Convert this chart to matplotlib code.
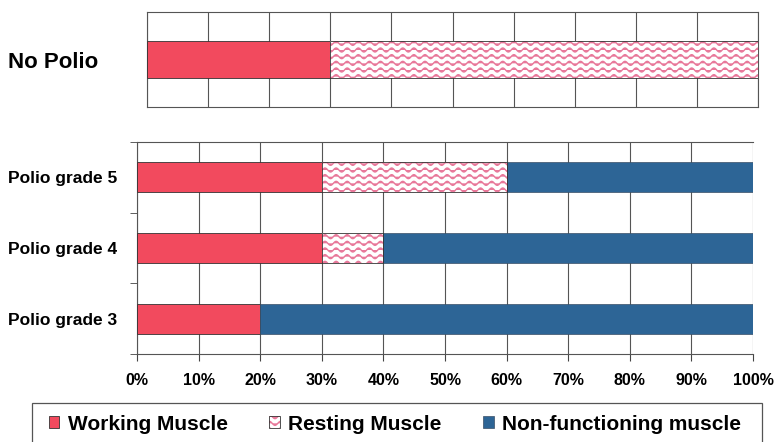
import warnings
import numpy as np
import matplotlib
matplotlib.use("Agg")
import matplotlib.pyplot as plt
import matplotlib.hatch as mhatch
import matplotlib.patches as mpatches
from matplotlib.legend_handler import HandlerTuple
from matplotlib.path import Path

warnings.filterwarnings("ignore")

# data (percent of muscle)
top_label = ["No Polio"]
top_working = np.array([30])
top_resting = np.array([70])

grades = ["Polio grade 3", "Polio grade 4", "Polio grade 5"]
working = np.array([20, 30, 30])
resting = np.array([0, 10, 30])
nonfunc = np.array([80, 60, 40])

series_names = ["Working Muscle", "Resting Muscle", "Non-functioning muscle"]
red = "#f24a5e"
blue = "#2d6596"
pink = "#e8789a"
edge = "#333333"


# wavy hatch, matplotlib has none built in
class WaveHatch(mhatch.HatchPatternBase):
    def __init__(self, hatch, density):
        self.num_lines = 15 if "~" in hatch else 0
        self.pts = 161
        self.num_vertices = self.num_lines * self.pts

    def set_vertices_and_codes(self, vertices, codes):
        xs = np.linspace(0, 1, self.pts)
        for i in range(self.num_lines):
            sl = slice(i * self.pts, (i + 1) * self.pts)
            vertices[sl, 0] = xs
            vertices[sl, 1] = (i + 0.5) / self.num_lines + 0.02 * np.sin(2 * np.pi * 9 * xs)
            codes[sl] = Path.LINETO
            codes[i * self.pts] = Path.MOVETO


mhatch._hatch_types.append(WaveHatch)

plt.rcParams["font.family"] = ["Liberation Sans", "DejaVu Sans"]
plt.rcParams["font.weight"] = "bold"
plt.rcParams["hatch.color"] = pink
plt.rcParams["hatch.linewidth"] = 1.0

fig = plt.figure(figsize=(7.74, 4.42), dpi=100)
W, H = 774, 442
ax_top = fig.add_axes([147 / W, 1 - 107 / H, (758 - 147) / W, (107 - 12) / H])
ax = fig.add_axes([137 / W, 1 - 354 / H, (753 - 137) / W, (354 - 142) / H])

ticks = np.arange(0, 101, 10)

# --- top chart ---
yt = np.arange(len(top_label))
ax_top.barh(yt, top_working, 0.39, color=red, edgecolor=edge, linewidth=0.6, zorder=3)
ax_top.barh(yt, top_resting, 0.39, left=top_working, color="white", hatch="~", zorder=3)
ax_top.barh(yt, top_resting, 0.39, left=top_working, fill=False, edgecolor=edge, linewidth=0.6, zorder=4)
ax_top.set_xlim(0, 100)
ax_top.set_ylim(-0.5, 0.5)
ax_top.set_xticks(ticks)
ax_top.tick_params(axis="x", length=0, labelbottom=False)
ax_top.set_yticks(yt, top_label, fontsize=16)
ax_top.tick_params(axis="y", length=0, pad=35)
ax_top.grid(axis="x", color="#555555", linewidth=0.8)
for s in ax_top.spines.values():
    s.set_color("#555555")
    s.set_linewidth(0.8)

# --- bottom chart ---
yb = np.arange(len(grades))
h = 0.42
ax.barh(yb, working, h, color=red, edgecolor=edge, linewidth=0.6, zorder=3)
ax.barh(yb, resting, h, left=working, color="white", hatch="~", zorder=3)
rest_outline = ax.barh(yb, resting, h, left=working, fill=False, edgecolor=edge, linewidth=0.6, zorder=4)
for p, r in zip(rest_outline, resting):
    p.set_visible(r > 0)
ax.barh(yb, nonfunc, h, left=working + resting, color=blue, edgecolor="#3a4f66", linewidth=0.5, zorder=3)
ax.set_xlim(0, 100)
ax.set_ylim(-0.5, len(grades) - 0.5)
ax.set_xticks(ticks, [f"{t}%" for t in ticks], fontsize=11.5)
ax.tick_params(axis="x", direction="out", length=5, pad=9, color="#444444")
ax.set_yticks(yb, grades, fontsize=12.5)
ax.set_yticks(np.arange(-0.5, len(grades), 1), minor=True)
ax.tick_params(axis="y", which="major", length=0, pad=14)
ax.tick_params(axis="y", which="minor", direction="out", length=5, color="#444444")
ax.grid(axis="x", color="#555555", linewidth=0.8)
ax.spines["right"].set_visible(False)
for s in ax.spines.values():
    s.set_color("#555555")
    s.set_linewidth(0.8)

# --- legend ---
fig.patches.append(mpatches.Rectangle((32 / W, -0.05), (762 - 32) / W, 0.05 + 1 - 403 / H,
                                      transform=fig.transFigure, facecolor="white",
                                      edgecolor="#555555", linewidth=0.9))
h_work = mpatches.Patch(facecolor=red, edgecolor=edge, linewidth=0.6)
h_rest = (mpatches.Patch(facecolor="white", hatch="~"),
          mpatches.Patch(fill=False, edgecolor=edge, linewidth=0.6))
h_non = mpatches.Patch(facecolor=blue, edgecolor="#3a4f66", linewidth=0.5)
fig.legend([h_work, h_rest, h_non], series_names, loc="center",
           bbox_to_anchor=(395 / W, 1 - 424 / H), ncol=3, frameon=False,
           fontsize=15, handlelength=0.5, handleheight=0.5, handletextpad=0.4,
           columnspacing=2.0, handler_map={tuple: HandlerTuple(ndivide=1)})

fig.savefig("out.png", dpi=100)
